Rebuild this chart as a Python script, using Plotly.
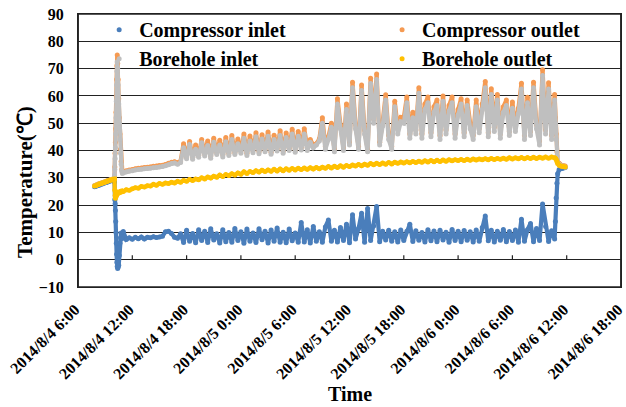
import pandas as pd
import plotly.graph_objects as go

# ---------------- data ----------------
# time stamps: start-up, spike, main run at 20-min steps, shut-down
t_start = list(pd.date_range("2014-08-04 07:50", "2014-08-04 10:00", freq="10min"))
t_spike = ["2014-08-04 10:02", "2014-08-04 10:04", "2014-08-04 10:06", "2014-08-04 10:08",
           "2014-08-04 10:10", "2014-08-04 10:12", "2014-08-04 10:14", "2014-08-04 10:16",
           "2014-08-04 10:18", "2014-08-04 10:20", "2014-08-04 10:23", "2014-08-04 10:26",
           "2014-08-04 10:30", "2014-08-04 10:34", "2014-08-04 10:38", "2014-08-04 10:42",
           "2014-08-04 10:46", "2014-08-04 10:50", "2014-08-04 10:54"]
t_main = list(pd.date_range("2014-08-04 11:00", "2014-08-06 10:40", freq="20min"))
t_end = ["2014-08-06 10:45", "2014-08-06 10:50", "2014-08-06 10:55", "2014-08-06 11:00",
         "2014-08-06 11:10", "2014-08-06 11:20", "2014-08-06 11:30", "2014-08-06 11:40",
         "2014-08-06 11:50"]
time = [pd.Timestamp(t) for t in t_start + t_spike + t_main + t_end]

compressor_inlet = [
    26.7, 26.9, 27.2, 27.3, 27.6, 27.7, 28.0, 28.2, 28.3, 28.6, 28.7, 29.0, 29.1, 29.3,
    28.5, 22.0, 20.5, 18.0, 14.0, 10.0, 6.0, 2.0, -1.0, -2.5, -3.2, -2.8, -2.0, 1.5, 6.0, 8.0, 9.8, 8.5, 7.8,
    10.3, 7.4, 8.0, 7.5, 8.2, 7.7, 8.3, 7.6, 8.2, 8.0, 8.4, 8.1,
    8.3, 8.6, 10.2, 10.4, 9.6, 8.2, 7.9, 9.5, 6.3, 10.8, 6.8, 9.6,
    6.2, 11.0, 7.0, 10.4, 6.3, 11.3, 7.2, 9.5, 6.1, 11.0, 6.6, 10.0,
    6.4, 11.4, 7.0, 10.2, 6.0, 11.2, 6.8, 9.8, 6.3, 11.3, 7.3, 10.4,
    6.1, 10.9, 6.8, 11.6, 6.4, 10.1, 6.2, 11.2, 6.9, 9.8, 6.4, 13.6,
    6.5, 11.0, 6.1, 12.2, 6.8, 10.2, 6.4, 12.0, 14.5, 6.8, 10.8, 6.5,
    11.8, 7.0, 13.0, 6.2, 16.5, 7.6, 11.4, 17.0, 6.4, 18.8, 7.0, 12.3,
    19.5, 6.6, 10.4, 7.2, 10.8, 6.8, 10.2, 6.5, 10.9, 7.0, 10.4, 13.0,
    6.7, 10.6, 7.1, 10.0, 6.5, 11.0, 6.9, 10.5, 6.6, 10.8, 7.2, 10.1,
    6.4, 11.1, 7.0, 10.4, 6.6, 10.7, 7.1, 10.2, 6.5, 10.9, 6.8, 11.8,
    16.0, 6.9, 10.8, 6.5, 10.4, 7.1, 11.1, 6.6, 10.3, 7.0, 10.9, 6.4,
    14.8, 6.8, 11.0, 13.3, 6.6, 11.4, 7.0, 20.4, 12.2, 6.7, 10.6, 7.6,
    14.0, 22.6, 28.0, 31.5, 33.0, 33.3, 33.5, 33.6, 33.8,
]

compressor_outlet = [
    27.2, 27.4, 27.6, 27.8, 28.0, 28.2, 28.4, 28.6, 28.8, 29.0, 29.2, 29.4, 29.6, 29.8,
    30.5, 34.0, 39.0, 43.0, 48.0, 54.0, 60.0, 66.0, 71.0, 75.0, 72.0, 66.0, 59.0, 52.0, 46.0, 40.5, 36.0, 33.0, 32.2,
    32.2, 32.6, 32.9, 33.0, 33.3, 33.5, 33.6, 33.8, 33.9, 34.0, 34.2, 34.3,
    34.5, 34.6, 34.9, 35.3, 35.7, 35.9, 35.5, 36.1, 42.5, 37.5, 43.3, 37.5,
    42.0, 38.2, 44.0, 38.8, 43.5, 38.0, 44.5, 39.2, 43.8, 38.5, 44.8, 39.0,
    45.5, 39.3, 44.2, 39.8, 46.0, 39.0, 45.3, 40.0, 46.5, 39.6, 45.8, 40.3,
    46.8, 39.4, 45.6, 40.6, 47.2, 39.8, 46.4, 40.8, 47.8, 40.2, 47.0, 41.0,
    48.0, 41.0, 44.0, 42.0, 42.5, 44.2, 52.0, 41.5, 45.0, 50.0, 40.5, 59.0,
    49.5, 41.0, 57.0, 43.0, 65.0, 49.5, 41.5, 64.0, 47.5, 40.5, 66.5, 51.5,
    68.0, 43.0, 50.5, 60.4, 45.5, 41.5, 58.0, 48.0, 52.2, 52.0, 59.6, 46.0,
    54.0, 47.5, 63.0, 46.0, 57.0, 59.6, 46.5, 56.0, 58.5, 45.5, 60.0, 47.5,
    56.5, 59.6, 46.0, 55.0, 59.0, 46.5, 58.5, 50.0, 45.5, 58.5, 48.0, 57.0,
    65.3, 46.5, 62.6, 48.5, 60.5, 46.0, 56.0, 58.5, 47.0, 57.8, 48.5, 55.5,
    64.6, 45.5, 59.5, 47.0, 65.0, 49.5, 43.5, 69.6, 47.5, 64.8, 45.5, 60.5,
    52.0, 46.0, 39.5, 36.0, 35.3, 34.8, 34.5, 34.4, 34.3,
]

borehole_inlet = [
    27.1, 27.3, 27.5, 27.7, 27.9, 28.1, 28.3, 28.5, 28.7, 28.9, 29.1, 29.3, 29.5, 29.7,
    31.0, 33.0, 37.0, 41.0, 46.0, 52.0, 58.0, 64.0, 69.0, 72.5, 70.0, 64.0, 57.0, 50.0, 44.0, 39.0, 35.0, 32.5, 31.7,
    31.8, 32.2, 32.5, 32.6, 32.9, 33.0, 33.1, 33.3, 33.4, 33.5, 33.7, 33.8,
    34.0, 34.1, 34.4, 34.8, 35.2, 35.4, 35.0, 35.6, 41.0, 37.0, 42.2, 36.8,
    40.5, 37.5, 42.8, 38.0, 41.8, 37.2, 43.0, 38.5, 42.0, 37.6, 43.2, 38.2,
    44.0, 38.5, 42.5, 39.0, 44.5, 38.2, 43.5, 39.2, 45.0, 38.8, 44.2, 39.5,
    45.2, 38.6, 44.0, 39.8, 45.5, 39.0, 44.8, 40.0, 46.0, 39.4, 45.2, 40.2,
    46.0, 40.0, 43.0, 41.0, 42.0, 43.5, 50.0, 40.5, 44.0, 48.5, 39.5, 57.0,
    48.0, 40.0, 55.0, 42.0, 63.0, 48.0, 40.5, 62.0, 46.0, 39.5, 64.5, 50.0,
    66.0, 42.0, 49.0, 58.5, 44.0, 40.5, 56.0, 46.0, 50.5, 50.0, 57.5, 44.5,
    52.0, 46.0, 61.0, 44.5, 55.0, 57.5, 45.0, 54.0, 56.5, 44.0, 58.0, 46.0,
    54.5, 57.5, 44.5, 53.0, 57.0, 45.0, 56.5, 48.0, 44.0, 56.0, 46.5, 55.0,
    63.0, 45.0, 60.5, 47.0, 58.5, 44.5, 54.0, 56.5, 45.5, 55.5, 47.0, 53.5,
    62.5, 44.0, 57.5, 45.5, 63.0, 48.0, 42.0, 67.5, 46.0, 62.5, 44.0, 58.5,
    50.0, 44.0, 38.0, 35.5, 35.0, 34.5, 34.3, 34.2, 34.0,
]

borehole_outlet = [
    27.0, 27.2, 27.5, 27.7, 27.9, 28.1, 28.3, 28.5, 28.7, 28.9, 29.1, 29.3, 29.5, 29.6,
    29.5, 25.5, 23.5, 22.5, 22.8, 23.2, 23.5, 23.8, 24.0, 24.2, 24.5, 24.6, 24.4, 24.7, 24.9, 25.0, 24.8, 25.1, 25.2,
    25.0, 25.6, 25.4, 26.0, 26.4, 26.2, 26.8, 26.6, 27.1, 27.0, 27.6, 27.3,
    27.9, 27.6, 28.1, 27.9, 28.4, 28.1, 28.7, 28.4, 29.0, 28.7, 29.4, 29.0,
    29.6, 29.3, 30.0, 29.6, 30.3, 29.9, 30.6, 30.2, 31.0, 30.5, 31.2, 30.8,
    31.5, 31.0, 31.8, 31.3, 32.2, 31.6, 32.3, 31.9, 32.6, 32.1, 32.8, 32.3,
    32.9, 32.4, 33.1, 32.5, 33.2, 32.6, 33.3, 32.8, 33.4, 32.9, 33.5, 33.0,
    33.6, 33.1, 33.7, 33.2, 33.8, 33.3, 33.9, 33.5, 34.1, 33.6, 34.2, 33.8,
    34.4, 33.9, 34.5, 34.1, 34.7, 34.3, 34.9, 34.4, 35.0, 34.6, 35.2, 34.8,
    35.3, 34.9, 35.4, 35.0, 35.6, 35.1, 35.7, 35.3, 35.8, 35.4, 35.9, 35.5,
    36.0, 35.6, 36.1, 35.7, 36.2, 35.8, 36.3, 35.9, 36.4, 36.0, 36.5, 36.1,
    36.6, 36.2, 36.6, 36.3, 36.7, 36.3, 36.8, 36.4, 36.9, 36.5, 36.9, 36.6,
    37.0, 36.6, 37.1, 36.7, 37.1, 36.8, 37.2, 36.8, 37.3, 36.9, 37.3, 37.0,
    37.4, 37.0, 37.4, 37.1, 37.5, 37.1, 37.5, 37.2, 37.6, 37.2, 37.6, 37.3,
    37.2, 36.8, 36.0, 35.2, 34.6, 34.3, 34.2, 34.1, 34.0,
]

series_names = ["Compressor inlet", "Compressor outlet", "Borehole inlet", "Borehole outlet"]
series_values = [compressor_inlet, compressor_outlet, borehole_inlet, borehole_outlet]
series_colors = ["#4A7EBB", "#F59A52", "#BFBFBF", "#FFC000"]
legend_slot = ["legend", "legend2", "legend", "legend2"]

tick_vals = ["2014-08-04 06:00", "2014-08-04 12:00", "2014-08-04 18:00", "2014-08-05 00:00",
             "2014-08-05 06:00", "2014-08-05 12:00", "2014-08-05 18:00", "2014-08-06 00:00",
             "2014-08-06 06:00", "2014-08-06 12:00", "2014-08-06 18:00"]
tick_text = ["2014/8/4 6:00", "2014/8/4 12:00", "2014/8/4 18:00", "2014/8/5 0:00",
             "2014/8/5 6:00", "2014/8/5 12:00", "2014/8/5 18:00", "2014/8/6 0:00",
             "2014/8/6 6:00", "2014/8/6 12:00", "2014/8/6 18:00"]
y_ticks = [-10, 0, 10, 20, 30, 40, 50, 60, 70, 80, 90]

# ---------------- figure ----------------
FONT = "Liberation Serif, Times New Roman, serif"
LINE = "#222222"
fig = go.Figure()

for name, vals, col in zip(series_names, series_values, series_colors):
    fig.add_trace(go.Scatter(
        x=time, y=vals, mode="lines+markers", name=name,
        line=dict(color=col, width=4.2), marker=dict(color=col, size=5),
        showlegend=False, hoverinfo="skip"))

for name, col, lg in zip(series_names, series_colors, legend_slot):
    fig.add_trace(go.Scatter(x=[None], y=[None], mode="markers", name=name,
                             marker=dict(color=col, size=5), legend=lg))

x_range = [tick_vals[0], tick_vals[-1]]
leg_font = dict(family=FONT, size=20, color="black", weight="bold")

# plot frame (edges of the plot area) and the small tick marks on the 0 line
shapes = [
    dict(type="rect", xref="paper", yref="paper", x0=0, y0=0, x1=1, y1=1,
         line=dict(color=LINE, width=1.5), fillcolor="rgba(0,0,0,0)", layer="above"),
    dict(type="line", xref="paper", yref="paper", x0=0, x1=0, y0=0, y1=1,
         line=dict(color=LINE, width=1.5), layer="above"),
    dict(type="line", xref="paper", yref="paper", x0=1, x1=1, y0=0, y1=1,
         line=dict(color=LINE, width=1.5), layer="above"),
]
for tv in tick_vals[1:-1]:
    shapes.append(dict(type="line", xref="x", yref="y", x0=tv, x1=tv, y0=0, y1=1.6,
                       line=dict(color=LINE, width=1.2), layer="above"))

fig.update_layout(
    width=626, height=407,
    margin=dict(l=78, r=5, t=14, b=120),
    paper_bgcolor="white", plot_bgcolor="white",
    font=dict(family=FONT, color="black"),
    xaxis=dict(
        type="date", range=x_range, tickmode="array", tickvals=tick_vals, ticktext=tick_text,
        tickangle=-45, ticks="", showgrid=False, zeroline=False, automargin=False,
        showline=True, linecolor=LINE, linewidth=1, mirror=True,
        ticklabelshift=-3, ticklabelstandoff=6, ticklabeloverflow="allow",
        tickfont=dict(family=FONT, size=16, color="black", weight="bold"),
    ),
    yaxis=dict(
        range=[-10, 90], tickmode="array", tickvals=y_ticks, ticks="", automargin=False,
        showgrid=True, gridcolor=LINE, gridwidth=1,
        zeroline=True, zerolinecolor=LINE, zerolinewidth=1,
        showline=True, linecolor=LINE, linewidth=1, mirror=True,
        ticklabelstandoff=10,
        tickfont=dict(family=FONT, size=16, color="black", weight="bold"),
    ),
    legend=dict(
        orientation="v", x=0.039, y=1.014, xanchor="left", yanchor="top",
        bgcolor="rgba(0,0,0,0)", font=leg_font, itemwidth=30, tracegroupgap=0,
    ),
    legend2=dict(
        orientation="v", x=0.56, y=1.014, xanchor="left", yanchor="top",
        bgcolor="rgba(0,0,0,0)", font=leg_font, itemwidth=30, tracegroupgap=0,
    ),
    shapes=shapes,
    annotations=[
        dict(text="Temperature(℃)", xref="paper", yref="paper", x=-0.0976, y=0.385,
             xanchor="center", yanchor="middle", textangle=-90, showarrow=False,
             font=dict(family=FONT, size=21, color="black", weight="bold")),
        dict(text="Time", xref="paper", yref="paper", x=0.5, y=-0.392,
             xanchor="center", yanchor="middle", showarrow=False,
             font=dict(family=FONT, size=20, color="black", weight="bold")),
    ],
)

fig.write_html("out.html", config={"displayModeBar": False},
               post_script="document.body.style.margin='0';")
